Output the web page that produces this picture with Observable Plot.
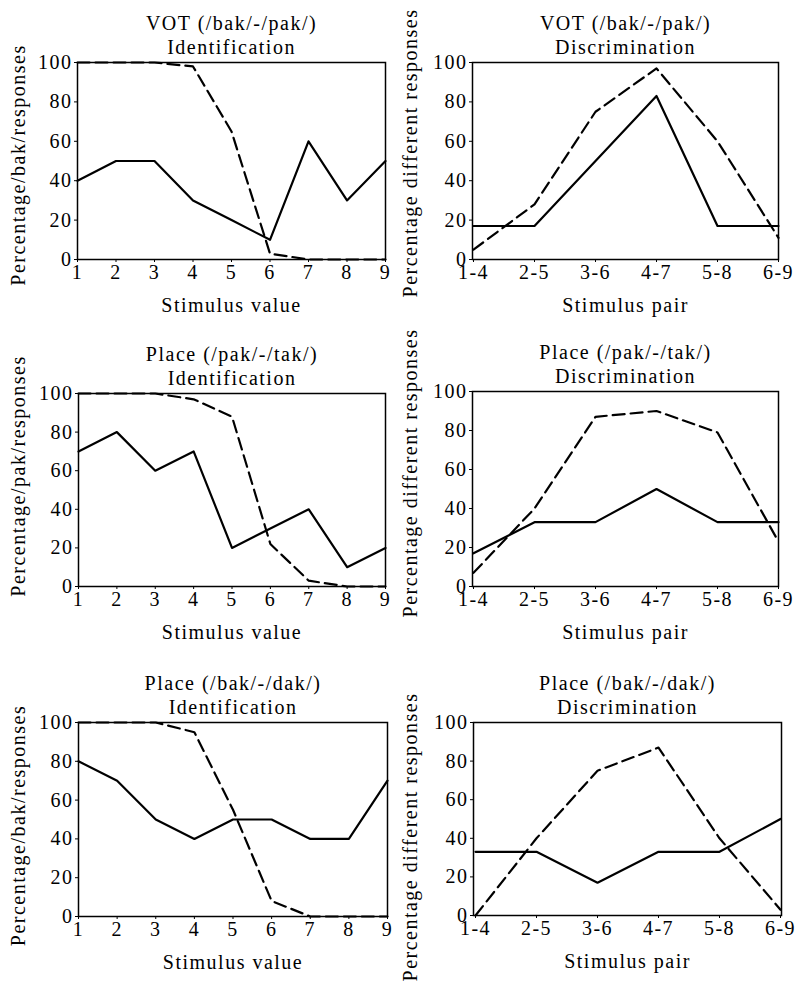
<!DOCTYPE html>
<html>
<head>
<meta charset="utf-8">
<script src="https://cdn.jsdelivr.net/npm/d3@7"></script>
<script src="https://cdn.jsdelivr.net/npm/@observablehq/plot@0.6"></script>
<style>
  html, body { margin: 0; padding: 0; background: #fff; }
  #root { position: relative; width: 796px; height: 984px; overflow: hidden; }
  .panel { position: absolute; }
  .panel svg, .panel svg text { font-family: "Liberation Serif", serif !important; }
</style>
</head>
<body>
<div id="root"></div>
<script>
// ---- data ----
const stimulusValues = [1, 2, 3, 4, 5, 6, 7, 8, 9];
const stimulusPairs = ["1-4", "2-5", "3-6", "4-7", "5-8", "6-9"];
const yTicks = [0, 20, 40, 60, 80, 100];

// VOT (/bak/-/pak/)
const votIdSolid = [40, 50, 50, 30, 20, 10, 60, 30, 50];
const votIdDashed = [100, 100, 100, 98, 65, 3, 0, 0, 0];
const votDiscSolid = [17, 17, 50, 83, 17, 17];
const votDiscDashed = [5, 28, 75, 97, 60, 11];

// Place (/pak/-/tak/)
const ptIdSolid = [70, 80, 60, 70, 20, 30, 40, 10, 20];
const ptIdDashed = [100, 100, 100, 97, 88, 22, 3, 0, 0];
const ptDiscSolid = [17, 33, 33, 50, 33, 33];
const ptDiscDashed = [7, 40, 87, 90, 79, 23];

// Place (/bak/-/dak/)
const bdIdSolid = [80, 70, 50, 40, 50, 50, 40, 40, 70];
const bdIdDashed = [100, 100, 100, 95, 55, 8, 0, 0, 0];
const bdDiscSolid = [33, 33, 17, 33, 33, 50];
const bdDiscDashed = [0, 40, 75, 87, 40, 3];

const titles = [
  "VOT (/bak/-/pak/)\nIdentification",
  "VOT (/bak/-/pak/)\nDiscrimination",
  "Place (/pak/-/tak/)\nIdentification",
  "Place (/pak/-/tak/)\nDiscrimination",
  "Place (/bak/-/dak/)\nIdentification",
  "Place (/bak/-/dak/)\nDiscrimination"
];
const yLabels = [
  "Percentage/bak/responses",
  "Percentage different responses",
  "Percentage/pak/responses",
  "Percentage different responses",
  "Percentage/bak/responses",
  "Percentage different responses"
];
const xLabels = ["Stimulus value", "Stimulus pair"];

// ---- layout ----
const panels = [
  {left: 0,   top: 0,   w: 398, h: 330, ml: 77, mr: 13, mt: 62, mb: 71, kind: "id",   solid: votIdSolid, dashed: votIdDashed, ylDx: -59, ylDy: 4},
  {left: 398, top: 0,   w: 398, h: 330, ml: 74, mr: 18, mt: 62, mb: 71, kind: "disc", solid: votDiscSolid, dashed: votDiscDashed, ylDx: -62, ylDy: -8},
  {left: 0,   top: 330, w: 398, h: 330, ml: 78, mr: 13, mt: 63, mb: 74, kind: "id",   solid: ptIdSolid, dashed: ptIdDashed, ylDx: -60, ylDy: -14},
  {left: 398, top: 330, w: 398, h: 330, ml: 74, mr: 18, mt: 61, mb: 74, kind: "disc", solid: ptDiscSolid, dashed: ptDiscDashed, ylDx: -62, ylDy: -16},
  {left: 0,   top: 660, w: 398, h: 324, ml: 78, mr: 11, mt: 62, mb: 68, kind: "id",   solid: bdIdSolid, dashed: bdIdDashed, ylDx: -60, ylDy: 6},
  {left: 398, top: 660, w: 398, h: 324, ml: 75, mr: 15, mt: 62, mb: 69, kind: "disc", solid: bdDiscSolid, dashed: bdDiscDashed, ylDx: -63, ylDy: 18}
];

const root = document.getElementById("root");
panels.forEach((p, i) => {
  const xs = p.kind === "id" ? stimulusValues : stimulusPairs;
  const solidData = xs.map((x, j) => ({x, y: p.solid[j]}));
  const dashedData = xs.map((x, j) => ({x, y: p.dashed[j]}));
  const xScale = p.kind === "id"
    ? {type: "linear", domain: [1, 9], ticks: stimulusValues, tickFormat: d => String(d), tickSize: 3, tickPadding: 2, label: null}
    : {type: "point", domain: stimulusPairs, padding: 0, tickSize: 3, tickPadding: 2, label: null};
  const chart = Plot.plot({
    width: p.w,
    height: p.h,
    marginLeft: p.ml,
    marginRight: p.mr,
    marginTop: p.mt,
    marginBottom: p.mb,
    style: "font-family: 'Liberation Serif', serif; font-size: 20px; letter-spacing: 1.5px; color: #000; background: transparent; overflow: visible;",
    x: xScale,
    y: {domain: [0, 100], ticks: yTicks, tickFormat: d => String(d), tickSize: 3, tickPadding: 2, label: null},
    marks: [
      Plot.frame({stroke: "#000", strokeWidth: 1.5}),
      Plot.line(solidData, {x: "x", y: "y", stroke: "#000", strokeWidth: 2.2}),
      Plot.line(dashedData, {x: "x", y: "y", stroke: "#000", strokeWidth: 2.2, strokeDasharray: "12,6"}),
      Plot.text([titles[i]], {frameAnchor: "top", text: d => d, textAnchor: "middle", lineAnchor: "bottom", lineHeight: 1.2, dy: -9, fill: "#000", fontSize: 20, fontFamily: "Liberation Serif"}),
      Plot.text([xLabels[p.kind === "id" ? 0 : 1]], {frameAnchor: "bottom", text: d => d, textAnchor: "middle", lineAnchor: "bottom", dy: 52, fill: "#000", fontSize: 20, fontFamily: "Liberation Serif"}),
      Plot.text([yLabels[i]], {frameAnchor: "left", text: d => d, textAnchor: "middle", rotate: -90, lineAnchor: "middle", dx: p.ylDx, dy: p.ylDy, fill: "#000", fontSize: 20, fontFamily: "Liberation Serif"})
    ]
  });
  const wrap = document.createElement("div");
  wrap.className = "panel";
  wrap.style.left = p.left + "px";
  wrap.style.top = p.top + "px";
  wrap.appendChild(chart);
  root.appendChild(wrap);
});
</script>
</body>
</html>
